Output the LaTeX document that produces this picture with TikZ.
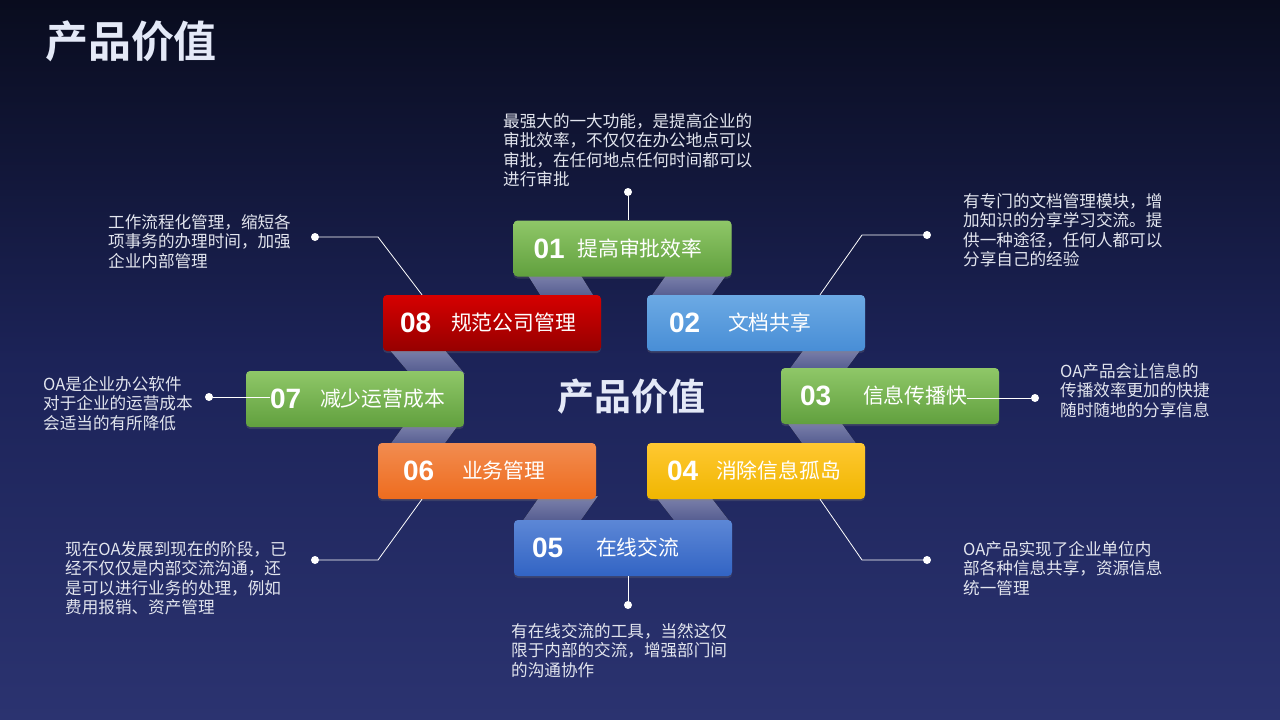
\documentclass[tikz,border=0pt]{standalone}
\usepackage{fontspec}
\newfontfamily\cjk[BoldFont={Noto Sans CJK SC Bold}]{Noto Sans CJK SC}
\newfontfamily\numfont{Liberation Sans}
\usetikzlibrary{shadows}

\definecolor{bgtop}{RGB}{9,12,30}
\definecolor{bgmid}{RGB}{28,35,88}
\definecolor{bgbot}{RGB}{43,51,112}
\definecolor{greentop}{RGB}{143,199,104}
\definecolor{greenbot}{RGB}{97,160,62}
\definecolor{skytop}{RGB}{108,170,228}
\definecolor{skybot}{RGB}{72,142,214}
\definecolor{redtop}{RGB}{214,0,0}
\definecolor{redbot}{RGB}{150,0,0}
\definecolor{goldtop}{RGB}{255,200,50}
\definecolor{goldbot}{RGB}{240,182,0}
\definecolor{orangetop}{RGB}{242,140,80}
\definecolor{orangebot}{RGB}{238,108,30}
\definecolor{navytop}{RGB}{92,135,214}
\definecolor{navybot}{RGB}{50,100,196}
\definecolor{ribtop}{RGB}{125,130,172}
\definecolor{ribbot}{RGB}{82,90,142}
\definecolor{desctext}{RGB}{226,229,238}
\definecolor{titletext}{RGB}{228,233,247}

\begin{document}
\begin{tikzpicture}[x=1pt, y=-1pt,
	box/.style={rounded corners=4pt, minimum width=218pt, minimum height=56pt, drop shadow={opacity=0.25, shadow xshift=0pt, shadow yshift=-2pt}},
	num/.style={anchor=west, inner sep=0pt, text=white, font=\numfont\bfseries\fontsize{28}{28}\selectfont},
	lbl/.style={anchor=west, inner sep=0pt, text=white, font=\cjk\fontsize{20.8}{22}\selectfont},
	desc/.style={anchor=north west, align=left, inner sep=0pt, text=desctext, font=\cjk\fontsize{16.6}{19.5}\selectfont},
	dot/.style={circle, fill=white, inner sep=0pt, minimum size=8pt},
	lead/.style={white, line width=0.8pt},
	ribbon/.style={top color=ribtop, bottom color=ribbot}]

	\fill[top color=bgtop, bottom color=bgbot, middle color=bgmid] (0,0) rectangle (1280,720);
	\useasboundingbox (0,0) rectangle (1280,720);

	\node[font=\cjk\bfseries\fontsize{43}{43}\selectfont, text=titletext] (title) at (131,41) {产品价值};

	% ribbons behind the boxes
	\fill[ribbon] (527,274) -- (580,274) -- (595,298) -- (542,298) -- cycle;
	\fill[ribbon] (667,274) -- (727,274) -- (710,298) -- (650,298) -- cycle;
	\fill[ribbon] (805,348) -- (862,348) -- (845,371) -- (788,371) -- cycle;
	\fill[ribbon] (786,421) -- (840,421) -- (858,446) -- (804,446) -- cycle;
	\fill[ribbon] (655,496) -- (710,496) -- (731,523) -- (676,523) -- cycle;
	\fill[ribbon] (540,496) -- (598,496) -- (579,523) -- (521,523) -- cycle;
	\fill[ribbon] (405,424) -- (459,424) -- (443,446) -- (389,446) -- cycle;
	\fill[ribbon] (388,348) -- (443,348) -- (465,374) -- (410,374) -- cycle;

	% boxes
	\node[box, top color=greentop, bottom color=greenbot] (b1) at (622.5,248.5) {};
	\node[box, top color=skytop, bottom color=skybot] (b2) at (756,323) {};
	\node[box, top color=greentop, bottom color=greenbot] (b3) at (890,396) {};
	\node[box, top color=goldtop, bottom color=goldbot] (b4) at (756,471) {};
	\node[box, top color=navytop, bottom color=navybot] (b5) at (623,548) {};
	\node[box, top color=orangetop, bottom color=orangebot] (b6) at (487,471) {};
	\node[box, top color=greentop, bottom color=greenbot] (b7) at (355,399) {};
	\node[box, top color=redtop, bottom color=redbot] (b8) at (492,323) {};

	\node[num] (n1) at ([xshift=20pt]b1.west) {01};
	\node[lbl] (l1) at ([xshift=64pt]b1.west) {提高审批效率};
	\node[num] (n2) at ([xshift=22pt]b2.west) {02};
	\node[lbl] (l2) at ([xshift=81pt]b2.west) {文档共享};
	\node[num] (n3) at ([xshift=19pt]b3.west) {03};
	\node[lbl] (l3) at ([xshift=82pt]b3.west) {信息传播快};
	\node[num] (n4) at ([xshift=20pt]b4.west) {04};
	\node[lbl] (l4) at ([xshift=69pt]b4.west) {消除信息孤岛};
	\node[num] (n5) at ([xshift=18pt]b5.west) {05};
	\node[lbl] (l5) at ([xshift=82pt]b5.west) {在线交流};
	\node[num] (n6) at ([xshift=25pt]b6.west) {06};
	\node[lbl] (l6) at ([xshift=84pt]b6.west) {业务管理};
	\node[num] (n7) at ([xshift=24pt]b7.west) {07};
	\node[lbl] (l7) at ([xshift=74pt]b7.west) {减少运营成本};
	\node[num] (n8) at ([xshift=17pt]b8.west) {08};
	\node[lbl] (l8) at ([xshift=68pt]b8.west) {规范公司管理};

	\node[font=\cjk\bfseries\fontsize{37}{37}\selectfont, text=titletext] (core) at (631,397) {产品价值};

	% dots and leader lines
	\node[dot] (d1) at (628,192) {};
	\node[dot] (d2) at (927,235) {};
	\node[dot] (d3) at (1035,398) {};
	\node[dot] (d4) at (927,560) {};
	\node[dot] (d5) at (628,605) {};
	\node[dot] (d6) at (315,560) {};
	\node[dot] (d7) at (209,397) {};
	\node[dot] (d8) at (315,237) {};
	\coordinate (k2) at (862,235);
	\coordinate (k4) at (862,560);
	\coordinate (k6) at (378,560);
	\coordinate (k8) at (378,237);

	\draw[lead] (d1) -- (d1 |- b1.north);
	\draw[lead] (d2) -- (k2) -- ([xshift=64pt]b2.north);
	\draw[lead] (d3) -- (d3 -| l3.east);
	\draw[lead] (d4) -- (k4) -- ([xshift=64pt]b4.south);
	\draw[lead] (d5) -- (d5 |- b5.south);
	\draw[lead] (d6) -- (k6) -- ([xshift=-65pt]b6.south);
	\draw[lead] (d7) -- (d7 -| n7.west);
	\draw[lead] (d8) -- (k8) -- ([xshift=-70pt]b8.north);

	% descriptions
	\node[desc] (t1) at (503,113) {最强大的一大功能，是提高企业的\\审批效率，不仅仅在办公地点可以\\审批，在任何地点任何时间都可以\\进行审批};
	\node[desc] (t2) at (963,193) {有专门的文档管理模块，增\\加知识的分享学习交流。提\\供一种途径，任何人都可以\\分享自己的经验};
	\node[desc] (t3) at (1060,363) {OA产品会让信息的\\传播效率更加的快捷\\随时随地的分享信息};
	\node[desc] (t4) at (963,541) {OA产品实现了企业单位内\\部各种信息共享，资源信息\\统一管理};
	\node[desc] (t5) at (511,623) {有在线交流的工具，当然这仅\\限于内部的交流，增强部门间\\的沟通协作};
	\node[desc] (t6) at (65,541) {现在OA发展到现在的阶段，已\\经不仅仅是内部交流沟通，还\\是可以进行业务的处理，例如\\费用报销、资产管理};
	\node[desc] (t7) at (43,376) {OA是企业办公软件\\对于企业的运营成本\\会适当的有所降低};
	\node[desc] (t8) at (108,214) {工作流程化管理，缩短各\\项事务的办理时间，加强\\企业内部管理};
\end{tikzpicture}
\end{document}
